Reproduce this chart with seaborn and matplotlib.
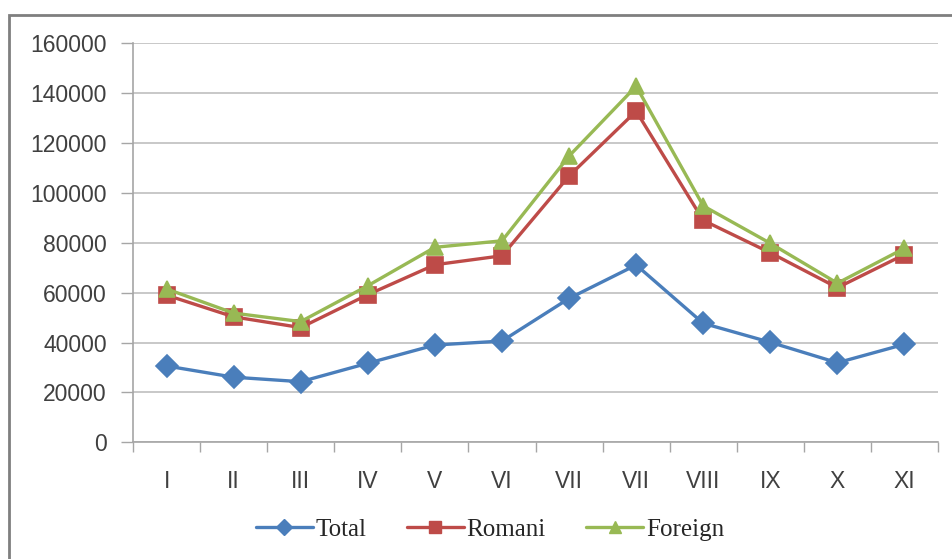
import numpy as np
import pandas as pd
import matplotlib
matplotlib.use("Agg")
import matplotlib.pyplot as plt
import seaborn as sns
from matplotlib.patches import Rectangle
from matplotlib.lines import Line2D

months = ["I", "II", "III", "IV", "V", "VI", "VII", "VII", "VIII", "IX", "X", "XI"]
total = [30600, 26100, 24300, 31700, 39000, 40600, 57700, 71100, 47700, 40100, 31900, 39300]
romani = [59000, 50300, 46000, 59200, 71200, 74800, 106800, 132800, 89000, 76000, 62000, 75300]
foreign = [61500, 51800, 48400, 62800, 78200, 80800, 114800, 142800, 94800, 79800, 63800, 77800]
series_names = ["Total", "Romani", "Foreign"]
colors = {"Total": "#4A7EBB", "Romani": "#BE4B48", "Foreign": "#98B954"}
markers = {"Total": "D", "Romani": "s", "Foreign": "^"}

pos = np.arange(len(months))
df = pd.concat([
    pd.DataFrame({"pos": pos, "value": vals, "Series": name})
    for name, vals in zip(series_names, [total, romani, foreign])
], ignore_index=True)

sns.set_theme(style="white")
plt.rcParams["font.family"] = ["Liberation Sans", "DejaVu Sans"]

fig = plt.figure(figsize=(9.53, 5.59), dpi=100)
ax = fig.add_axes([0.1396, 0.2088, 0.8447, 0.7137])

sns.lineplot(data=df, x="pos", y="value", hue="Series", style="Series",
             hue_order=series_names, style_order=series_names,
             palette=colors, markers=markers, dashes=False,
             linewidth=2.4, markersize=11, markeredgewidth=1.2,
             ax=ax, legend=False, sort=False)

for line, name in zip(ax.get_lines(), series_names):
    line.set_markeredgecolor(colors[name])
    line.set_markerfacecolor(colors[name])

ax.set_xlim(-0.5, len(months) - 0.5)
ax.set_ylim(0, 160000)
ax.set_yticks(np.arange(0, 160001, 20000))
ax.set_yticklabels([f"{v}" for v in range(0, 160001, 20000)])
ax.set_xticks(np.arange(-0.5, len(months), 1.0))
ax.set_xticklabels([])
ax.set_xticks(pos, minor=True)
ax.set_xticklabels(months, minor=True)
ax.tick_params(axis="x", which="major", length=7, width=1, color="#A6A6A6", direction="out", bottom=True)
ax.tick_params(axis="x", which="minor", length=0, pad=20, labelsize=16.5, labelcolor="#404040")
ax.tick_params(axis="y", length=9, width=1, color="#A6A6A6", direction="out", left=True, labelsize=16.5, labelcolor="#404040", pad=10)

ax.set_xlabel("")
ax.set_ylabel("")
ax.grid(axis="y", color="#BFBFBF", linewidth=1.2)
ax.grid(axis="x", visible=False)
for s in ["top", "right"]:
    ax.spines[s].set_visible(False)
for s in ["left", "bottom"]:
    ax.spines[s].set_color("#A6A6A6")
    ax.spines[s].set_linewidth(1.2)

handles = [Line2D([0], [0], color=colors[n], marker=markers[n], markersize=8,
                  linewidth=2.4, markerfacecolor=colors[n], markeredgecolor=colors[n])
           for n in series_names]
fig.legend(handles, series_names, loc="center", bbox_to_anchor=(0.514, 0.053),
           ncol=3, frameon=False, handlelength=2.3, handletextpad=0.1,
           columnspacing=1.6, prop={"family": "Liberation Serif", "size": 18})

fig.patches.append(Rectangle((9 / 953, -0.1), 1.2, (559 - 15) / 559 + 0.1,
                             transform=fig.transFigure, fill=False,
                             edgecolor="#7F7F7F", linewidth=2, zorder=0))

fig.savefig("out.png", dpi=100)
